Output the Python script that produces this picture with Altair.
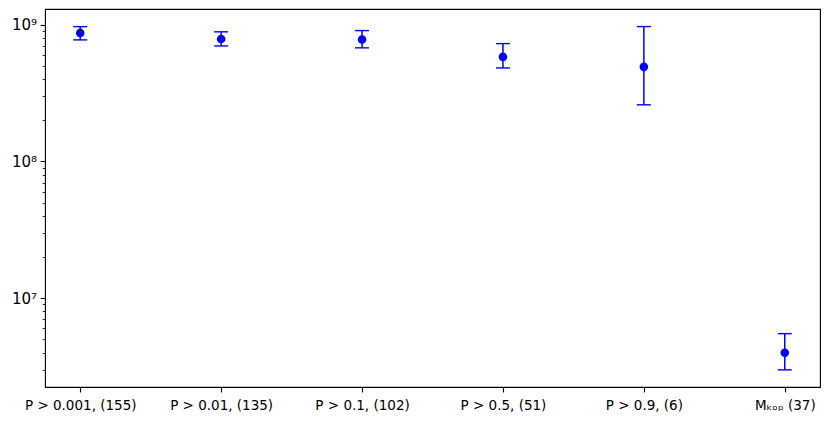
import altair as alt
import pandas as pd

categories = ["P > 0.001, (155)", "P > 0.01, (135)", "P > 0.1, (102)",
              "P > 0.5, (51)", "P > 0.9, (6)", "Mₖₒₚ (37)"]
values = [8.69e8, 7.85e8, 7.77e8, 5.81e8, 4.91e8, 3.99e6]
lower = [7.73e8, 6.98e8, 6.76e8, 4.82e8, 2.59e8, 2.99e6]
upper = [9.66e8, 8.85e8, 9.04e8, 7.26e8, 9.67e8, 5.50e6]

major_ticks = [1e7, 1e8, 1e9]
minor_ticks = [3e6, 4e6, 5e6, 6e6, 7e6, 8e6, 9e6,
               2e7, 3e7, 4e7, 5e7, 6e7, 7e7, 8e7, 9e7,
               2e8, 3e8, 4e8, 5e8, 6e8, 7e8, 8e8, 9e8]

df = pd.DataFrame({"cat": categories, "val": values, "lo": lower, "hi": upper})

FONT = "DejaVu Sans"
BLUE = "#0000ff"

yscale = alt.Scale(type="log", domain=[2.24e6, 1.30e9], nice=False, zero=False)
xscale = alt.Scale(type="point", padding=0.25)

xaxis = alt.Axis(title=None, labelAngle=0, tickSize=4.9, tickWidth=1.1,
                 tickColor="black", labelColor="black", labelFontSize=13.5,
                 labelFont=FONT, labelPadding=6.5, domain=False, grid=False,
                 labelOverlap=False, orient="bottom")

major_axis = alt.Axis(title=None, orient="left", values=major_ticks,
                      labelExpr="datum.value >= 5e8 ? '10⁹' : datum.value >= 5e7 ? '10⁸' : '10⁷'",
                      tickSize=4.9, tickWidth=1.1, tickColor="black",
                      labelColor="black", labelFontSize=15, labelFont=FONT,
                      labelPadding=3.5, domain=False, grid=False)
minor_axis = alt.Axis(title=None, orient="left", values=minor_ticks, labels=False,
                      tickSize=2.8, tickWidth=0.83, tickColor="black",
                      domain=False, grid=False)

x = alt.X("cat:N", sort=categories, scale=xscale, axis=xaxis)

bars = alt.Chart(df).mark_rule(color=BLUE, strokeWidth=1.5).encode(
    x=x,
    y=alt.Y("lo:Q", scale=yscale, axis=major_axis),
    y2="hi:Q",
)
points = alt.Chart(df).mark_circle(color=BLUE, size=74, opacity=1).encode(
    x=x,
    y=alt.Y("val:Q", scale=yscale, axis=minor_axis),
)
cap_lo = alt.Chart(df).mark_tick(color=BLUE, size=14, thickness=1.4, opacity=1).encode(
    x=x,
    y=alt.Y("lo:Q", scale=yscale, axis=None),
)
cap_hi = alt.Chart(df).mark_tick(color=BLUE, size=14, thickness=1.4, opacity=1).encode(
    x=x,
    y=alt.Y("hi:Q", scale=yscale, axis=None),
)

chart = alt.layer(bars, cap_lo, cap_hi, points).resolve_scale(
    y="shared", x="shared"
).resolve_axis(y="independent", x="shared").properties(
    width=775, height=378,
    autosize=alt.AutoSizeParams(type="none"),
    padding={"left": 37, "top": 1, "right": 2, "bottom": 31},
    background="white",
).configure_view(stroke="black", strokeWidth=1.1)

chart.save("out.html", embed_options={"renderer": "svg", "actions": False})
